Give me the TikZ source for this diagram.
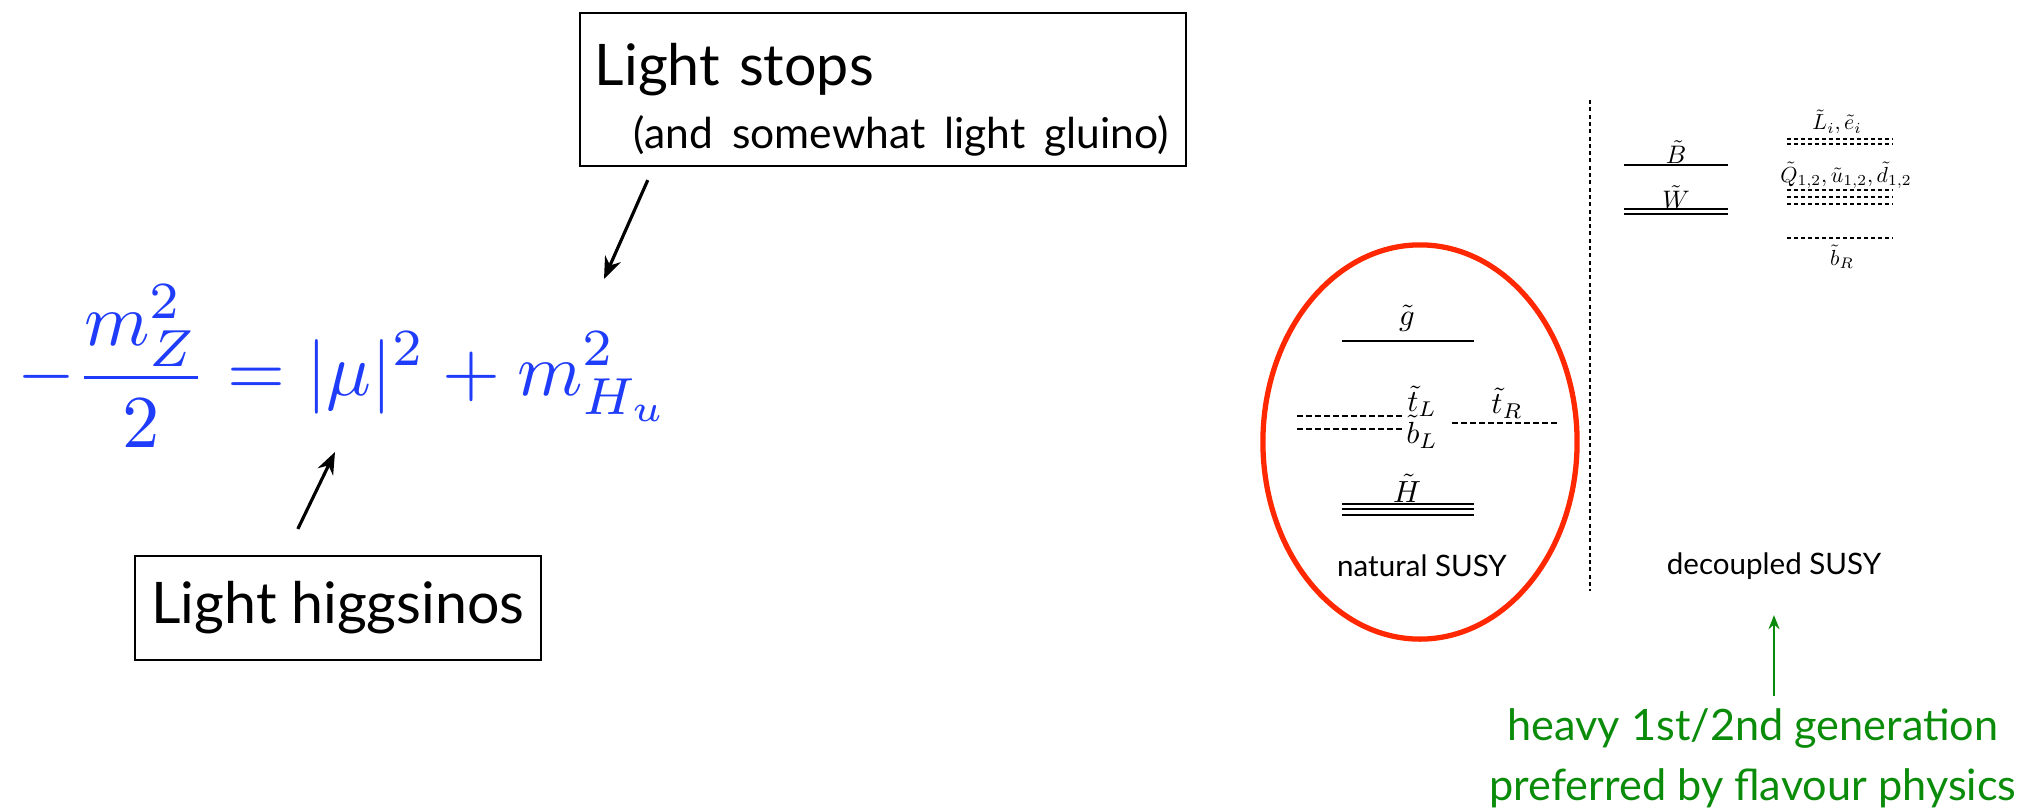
\documentclass[tikz,border=0pt]{standalone}
\usepackage[no-math]{fontspec}
\setmainfont{Lato}
\usetikzlibrary{arrows.meta,positioning,calc}
\definecolor{eqblue}{RGB}{30,60,250}
\definecolor{ovalred}{RGB}{255,40,0}
\definecolor{flavgreen}{RGB}{10,140,10}

\begin{document}
\begin{tikzpicture}[x=0.01cm,y=-0.01cm,>={Stealth[length=2.2mm,width=1.7mm]},
  callout/.style={draw,line width=0.6pt,inner sep=0pt,fill=white,font=\fontsize{16.3}{19}\selectfont},
  lvl/.style={line width=0.6pt},
  sq/.style={line width=0.6pt,dash pattern=on 0.55mm off 0.35mm},
  sqs/.style={line width=0.55pt,dash pattern=on 0.4mm off 0.3mm},
  natlab/.style={scale=0.87,inner sep=0pt},
  declab/.style={scale=0.72,inner sep=0pt},
  sqlab/.style={scale=0.62,inner sep=0pt},
  spec/.style={font=\fontsize{8.4}{10}\selectfont,inner sep=0pt}]
\useasboundingbox (0,0) rectangle (2036,809);
% relation and the two call-outs
\node[anchor=west,inner sep=0pt,text=eqblue,scale=2.12] (eq) at (16,366)
  {$\displaystyle -\frac{m_Z^2}{2}=|\mu|^2+m_{H_u}^2$};
\node[callout,minimum width=6.06cm,minimum height=1.53cm,text width=5.76cm,align=left] (stops) at (883,89.5)
  {\rule{0pt}{18pt}Light stops\\[-1pt]\hspace*{0.39cm}{\fontsize{12.1}{14}\selectfont (and somewhat light gluino)}};
\node[callout,minimum width=4.06cm,minimum height=1.04cm] (higgs) at (338,608) {Light higgsinos};
\coordinate (stopstail) at ($(stops.south west)+(69,13)$);
\coordinate (mhu) at (604,279);
\coordinate (higgstail) at ($(higgs.north west)+(164,-26)$);
\coordinate (mutip) at (335,452);
\draw[->,line width=0.9pt] (stopstail)--(mhu);
\draw[->,line width=0.9pt] (higgstail)--(mutip);
% natural spectrum
\draw[ovalred,line width=1.5pt] (1420,442) ellipse [x radius=1.57cm,y radius=1.97cm];
\draw[lvl] (1342,341)--(1474,341);
\node[natlab] (gl) at (1407,318) {$\tilde g$};
\draw[sq] (1297,416)--(1405,416);\draw[sq] (1297,429)--(1405,429);
\node[natlab] (tl) at (1422,401) {$\tilde t_L$};
\node[natlab] (bl) at (1422,432) {$\tilde b_L$};
\draw[sq] (1452,423)--(1558,423);
\node[natlab] (tr) at (1507,403) {$\tilde t_R$};
\foreach \yy in {504,509,515} \draw[lvl] (1342,\yy)--(1474,\yy);
\node[natlab] (hs) at (1407,488) {$\tilde H$};
\node[spec] (nat) at (1422,566) {natural SUSY};
% decoupled spectrum
\draw[line width=0.7pt,dash pattern=on 0.4mm off 0.33mm] (1590,100)--(1590,591);
\draw[lvl] (1624,165)--(1728,165);
\node[declab] (bino) at (1676,152) {$\tilde B$};
\draw[lvl] (1624,209)--(1728,209);\draw[lvl] (1624,214)--(1728,214);
\node[declab] (wino) at (1676,197) {$\tilde W$};
\draw[sqs] (1787,139)--(1893,139);\draw[sqs] (1787,144)--(1893,144);
\node[sqlab] (slep) at (1837,122) {$\tilde L_i,\tilde e_i$};
\foreach \yy in {190,197,204} \draw[sqs] (1787,\yy)--(1893,\yy);
\node[sqlab] (sqk) at (1846,175) {$\tilde Q_{1,2},\tilde u_{1,2},\tilde d_{1,2}$};
\draw[sqs] (1787,238)--(1893,238);
\node[sqlab] (br) at (1842,257) {$\tilde b_R$};
\node[spec] (dec) at (1774,566) {decoupled SUSY};
% flavour remark
\node[text=flavgreen,align=center,inner sep=0pt,font=\fontsize{12.3}{17}\selectfont] (gen) at (1753,758)
  {heavy 1st/2nd generation\\preferred by flavour physics};
\draw[-{Stealth[length=1.4mm,width=1.1mm]},flavgreen,line width=0.55pt,shorten <=1.2mm,shorten >=3.5mm] (gen.north -| dec.south)--(dec.south);
\end{tikzpicture}
\end{document}
